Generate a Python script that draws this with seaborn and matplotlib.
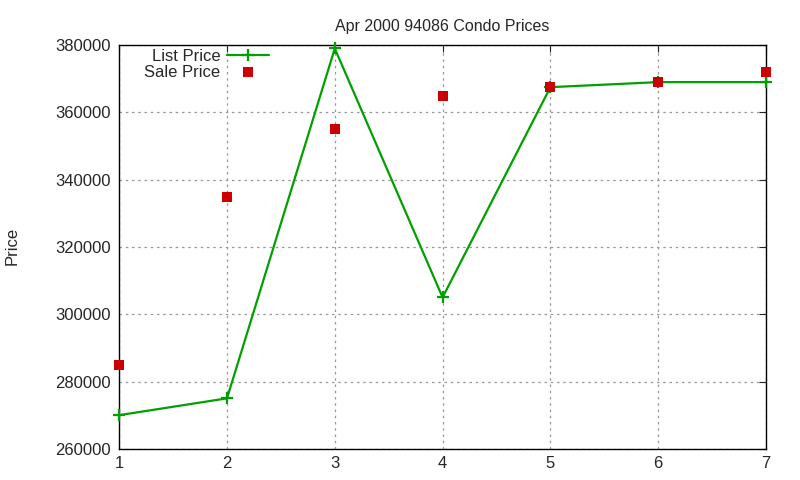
import numpy as np
import pandas as pd
import seaborn as sns
import matplotlib.pyplot as plt

positions = [1, 2, 3, 4, 5, 6, 7]
list_price = [270000, 275000, 379000, 305000, 367500, 369000, 369000]
sale_price = [285000, 335000, 355000, 365000, 367500, 369000, 372000]

df = pd.DataFrame({"pos": positions, "list": list_price, "sale": sale_price})

sns.set_style("white")
plt.rcParams['font.family'] = ['Liberation Sans', 'DejaVu Sans']

fig, ax = plt.subplots(figsize=(8, 4.8), dpi=100)
fig.subplots_adjust(left=0.149, right=0.9575, top=0.906, bottom=0.065)

sns.lineplot(data=df, x="pos", y="list", ax=ax, color="#00a000", linewidth=1.6,
             marker="+", markersize=9, markeredgewidth=1.6,
             markeredgecolor="#00a000", label="List Price", clip_on=False, zorder=3)
sns.scatterplot(data=df, x="pos", y="sale", ax=ax, color="#cc0000", marker="s",
                s=45, linewidth=0, label="Sale Price", zorder=4, clip_on=False)

ax.set_xlim(1, 7)
ax.set_ylim(260000, 380000)
ax.set_xticks(positions)
ax.set_yticks(np.arange(260000, 380001, 20000))
ax.set_xlabel("")
ax.set_ylabel("")
# y label placed by hand, gnuplot puts it far from the tick labels
fig.text(0.015, 0.4875, "Price", rotation=90, ha="center", va="center", fontsize=12)
ax.set_title("Apr 2000 94086 Condo Prices", fontsize=11.5, pad=10)
ax.grid(True, color="#999999", linestyle=(0, (2, 3)), linewidth=0.9)
ax.tick_params(direction="in", length=5, labelsize=12, top=True, right=True,
               labeltop=False, labelright=False)
ax.tick_params(axis="x", pad=5)
ax.tick_params(axis="y", pad=6)
for s in ax.spines.values():
    s.set_color("black")
    s.set_linewidth(1)

ax.legend(loc="upper left", bbox_to_anchor=(0.021, 1.02), markerfirst=False,
          frameon=False, fontsize=12, handlelength=2.5, handletextpad=0.4,
          labelspacing=0.05, borderaxespad=0.3)

plt.savefig("out.png", dpi=100)
